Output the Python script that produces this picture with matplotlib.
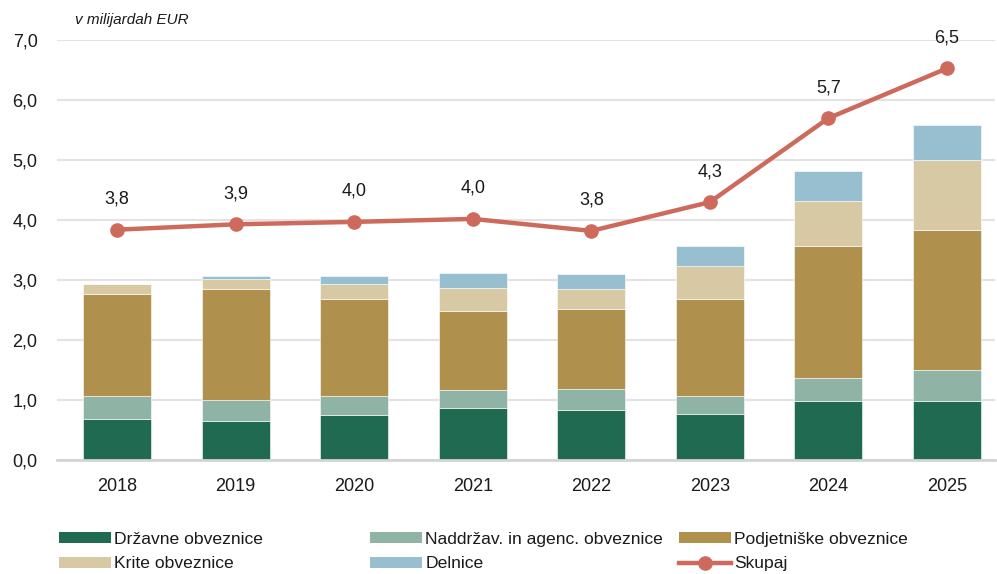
import matplotlib
matplotlib.use("Agg")
import matplotlib.pyplot as plt
import numpy as np
from matplotlib.patches import Patch
from matplotlib.lines import Line2D

plt.rcParams["font.family"] = ["Liberation Sans", "DejaVu Sans"]

YEARS = ["2018", "2019", "2020", "2021", "2022", "2023", "2024", "2025"]

# stacked components, bn EUR
DRZAVNE = [0.68, 0.65, 0.75, 0.86, 0.83, 0.76, 0.99, 0.99]
NADDRZAVNE = [0.38, 0.35, 0.31, 0.30, 0.36, 0.31, 0.37, 0.51]
PODJETNISKE = [1.71, 1.85, 1.62, 1.33, 1.33, 1.61, 2.21, 2.33]
KRITE = [0.16, 0.17, 0.25, 0.38, 0.33, 0.56, 0.75, 1.17]
DELNICE = [0.00, 0.05, 0.13, 0.24, 0.25, 0.33, 0.50, 0.58]

# total line
SKUPAJ = [3.84, 3.93, 3.97, 4.02, 3.82, 4.30, 5.70, 6.53]

SERIES = [
    ("Državne obveznice", DRZAVNE, "#1f6a50"),
    ("Naddržav. in agenc. obveznice", NADDRZAVNE, "#8fb3a5"),
    ("Podjetniške obveznice", PODJETNISKE, "#af904d"),
    ("Krite obveznice", KRITE, "#d8c9a5"),
    ("Delnice", DELNICE, "#98bfcf"),
]
LINE_COLOR = "#cd6a5c"
GRID_COLOR = "#e3e3e3"
TEXT_COLOR = "#1a1a1a"

fig = plt.figure(figsize=(9.97, 5.74), dpi=100)
ax = fig.add_axes([0.0572, 0.1986, 0.9408, 0.7314])

x = np.arange(len(YEARS))
bottom = np.zeros(len(YEARS))
for name, vals, color in SERIES:
    vals = np.array(vals)
    ax.bar(x, vals, width=0.573, bottom=bottom, color=color,
           edgecolor="white", linewidth=0.4, zorder=3)
    bottom += vals

ax.plot(x, SKUPAJ, color=LINE_COLOR, linewidth=3.2, marker="o",
        markersize=9.5, zorder=5)
for xi, v in zip(x, SKUPAJ):
    ax.annotate(f"{v:.1f}".replace(".", ","), (xi, v), xytext=(0, 22),
                textcoords="offset points", ha="center", va="center",
                fontsize=13, color=TEXT_COLOR)

ax.set_ylim(0, 7)
ax.set_xlim(-0.506, 7.405)
ax.set_yticks(np.arange(0, 7.01, 1.0))
ax.set_yticklabels([f"{t:.1f}".replace(".", ",") for t in np.arange(0, 7.01, 1.0)])
ax.set_xticks(x)
ax.set_xticklabels(YEARS)
ax.tick_params(axis="both", length=0, labelsize=13, colors=TEXT_COLOR)
ax.tick_params(axis="y", pad=14)
ax.tick_params(axis="x", pad=13)

ax.grid(axis="y", color=GRID_COLOR, linewidth=1.5, zorder=0)
ax.set_axisbelow(True)
for side in ["top", "right", "left"]:
    ax.spines[side].set_visible(False)
ax.spines["bottom"].set_color("#d4d4d4")
ax.spines["bottom"].set_linewidth(2)
ax.spines["bottom"].set_zorder(4)

fig.text(0.075, 0.965, "v milijardah EUR", fontsize=11, style="italic",
         ha="left", va="center", color=TEXT_COLOR)

# legend laid out in three columns of two rows
handles = [Patch(facecolor=c, edgecolor="none") for _, _, c in SERIES]
handles.append(Line2D([], [], color=LINE_COLOR, linewidth=3.2, marker="o",
                      markersize=9.5))
labels = [s[0] for s in SERIES] + ["Skupaj"]
columns = [(0, 3, 59), (1, 4, 370), (2, 5, 679)]
for i, j, px in columns:
    fig.legend([handles[i], handles[j]], [labels[i], labels[j]],
               loc="upper left", bbox_to_anchor=(px / 997, 0.0735),
               frameon=False, fontsize=12.6, handlelength=2.95,
               handleheight=0.62, handletextpad=0.22, labelspacing=0.55,
               borderpad=0, borderaxespad=0, labelcolor=TEXT_COLOR)

fig.savefig("out.png", dpi=100)
